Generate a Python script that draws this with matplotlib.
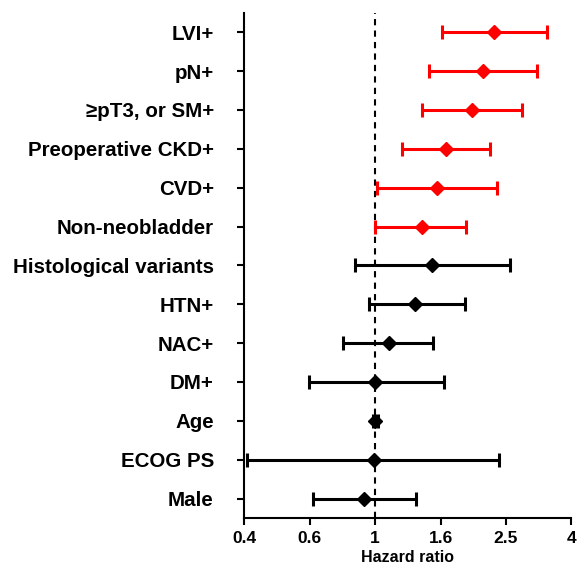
import matplotlib
matplotlib.use('Agg')
import matplotlib.pyplot as plt
import numpy as np

plt.rcParams['font.family'] = ['Liberation Sans', 'DejaVu Sans']
plt.rcParams['font.weight'] = 'bold'

labels = ['LVI+', 'pN+', '\u2265pT3, or SM+', 'Preoperative CKD+', 'CVD+',
          'Non-neobladder', 'Histological variants', 'HTN+', 'NAC+', 'DM+',
          'Age', 'ECOG PS', 'Male']
hr = [2.31, 2.14, 1.98, 1.65, 1.54, 1.39, 1.49, 1.32, 1.10, 1.00, 1.00, 0.993, 0.924]
lo = [1.60, 1.46, 1.39, 1.21, 1.01, 1.00, 0.867, 0.955, 0.80, 0.626, 0.985, 0.406, 0.647]
hi = [3.34, 3.13, 2.82, 2.24, 2.35, 1.90, 2.58, 1.88, 1.50, 1.62, 1.02, 2.39, 1.33]
colors = ['red'] * 6 + ['black'] * 7

xticks = [10 ** -0.4, 10 ** -0.2, 1, 10 ** 0.2, 10 ** 0.4, 10 ** 0.6]
xticklabels = ['0.4', '0.6', '1', '1.6', '2.5', '4']

fig = plt.figure(figsize=(5.79, 5.67), dpi=100)
ax = fig.add_axes([0.422, 0.0864, 0.565, 0.891])

n = len(labels)
ypos = np.arange(n, 0, -1)

ax.axvline(1, color='black', linestyle=(0, (3, 2.5)), linewidth=1.5, zorder=1)

for y, h, l, u, c in zip(ypos, hr, lo, hi, colors):
    ax.errorbar(h, y, xerr=[[h - l], [u - h]], fmt='D', color=c, ecolor=c,
                markersize=7, elinewidth=2.2, capsize=5, capthick=2.2, zorder=3)

ax.set_xscale('log')
ax.set_xlim(10 ** -0.4, 10 ** 0.6)
ax.set_ylim(0.5, n + 0.5)
ax.set_xticks(xticks)
ax.set_xticklabels(xticklabels, fontsize=12.5, fontweight='bold')
ax.xaxis.set_minor_locator(matplotlib.ticker.NullLocator())
ax.set_yticks(ypos)
ax.set_yticklabels(labels, fontsize=14.8, fontweight='bold')
ax.set_xlabel('Hazard ratio', fontsize=11.5, fontweight='bold', labelpad=3)

for s in ['top', 'right']:
    ax.spines[s].set_visible(False)
for s in ['left', 'bottom']:
    ax.spines[s].set_linewidth(1.5)
ax.tick_params(axis='y', length=5, width=1.5, pad=17)
ax.tick_params(axis='x', length=5, width=1.5, pad=4)

fig.savefig('out.png', dpi=100)
